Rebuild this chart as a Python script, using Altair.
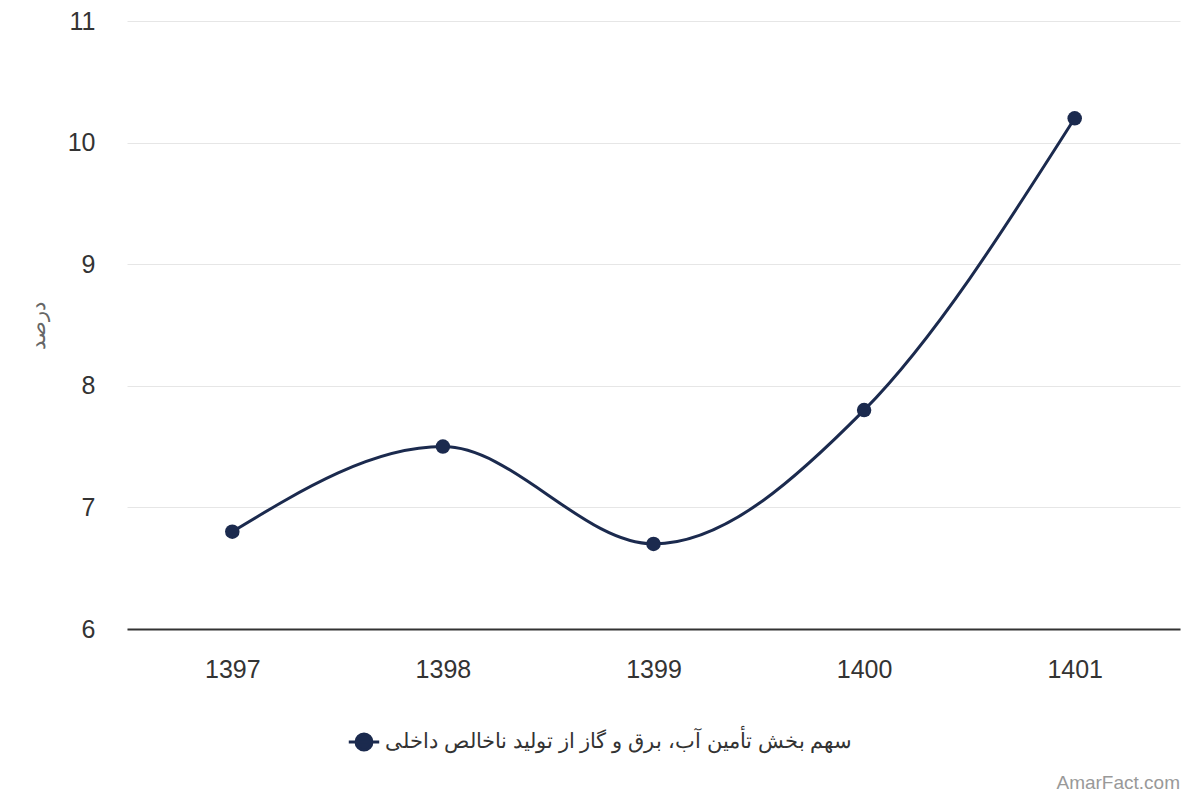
import altair as alt
import pandas as pd

# Data
years = ["1397", "1398", "1399", "1400", "1401"]
shares = [6.8, 7.5, 6.7, 7.8, 10.2]
series_name = "سهم بخش تأمین آب، برق و گاز از تولید ناخالص داخلی"

NAVY = "#1b2a4e"
FONT = "Liberation Sans"

df = pd.DataFrame({"year": years, "share": shares, "series": series_name})

W, H = 1053, 608

x_enc = alt.X(
    "year:O",
    title=None,
    scale=alt.Scale(type="point", padding=0.5),
    axis=alt.Axis(
        labelAngle=0,
        labelFontSize=25,
        labelColor="#333333",
        labelPadding=28,
        ticks=False,
        domainColor="#333333",
        domainWidth=2,
        grid=False,
    ),
)
y_enc = alt.Y(
    "share:Q",
    title="درصد",
    scale=alt.Scale(domain=[6, 11], nice=False, zero=False),
    axis=alt.Axis(
        values=[6, 7, 8, 9, 10, 11],
        format="d",
        labelFontSize=25,
        labelColor="#333333",
        labelPadding=32,
        ticks=False,
        domain=False,
        gridColor="#e6e6e6",
        titleFontSize=21,
        titleFontWeight="normal",
        titleColor="#666666",
        titlePadding=19,
    ),
)

# line with a dot in the middle, like the original legend marker
legend_symbol = (
    "M-1.05,0L1.05,0"
    "M-0.55,0A0.55,0.55 0 1,0 0.55,0A0.55,0.55 0 1,0 -0.55,0Z"
)

color_enc = alt.Color(
    "series:N",
    scale=alt.Scale(range=[NAVY]),
    legend=alt.Legend(
        title=None,
        orient="none",
        legendX=221,
        legendY=705,
        symbolType=legend_symbol,
        symbolSize=841,
        symbolStrokeWidth=3,
        symbolFillColor=NAVY,
        symbolStrokeColor=NAVY,
        labelFontSize=21,
        labelColor="#333333",
        labelLimit=800,
        labelOffset=5,
    ),
)

line = (
    alt.Chart(df)
    .mark_line(interpolate="monotone", strokeWidth=3)
    .encode(x=x_enc, y=y_enc, color=color_enc)
)

points = (
    alt.Chart(df)
    .mark_point(filled=True, size=210, opacity=1)
    .encode(x="year:O", y="share:Q", color=alt.Color("series:N", legend=None))
)

watermark = (
    alt.Chart(pd.DataFrame({"t": ["AmarFact.com"]}))
    .mark_text(align="right", baseline="middle", fontSize=19, color="#999999", font=FONT)
    .encode(x=alt.value(W), y=alt.value(762), text="t:N")
)

chart = (
    alt.layer(line, points, watermark)
    .properties(
        width=W,
        height=H,
        autosize=alt.AutoSizeParams(type="none"),
        padding={"left": 119, "top": 13, "right": 12, "bottom": 163},
    )
    .configure(font=FONT)
    .configure_view(stroke=None)
)

chart.save("out.html", embed_options={"renderer": "svg", "actions": False})
